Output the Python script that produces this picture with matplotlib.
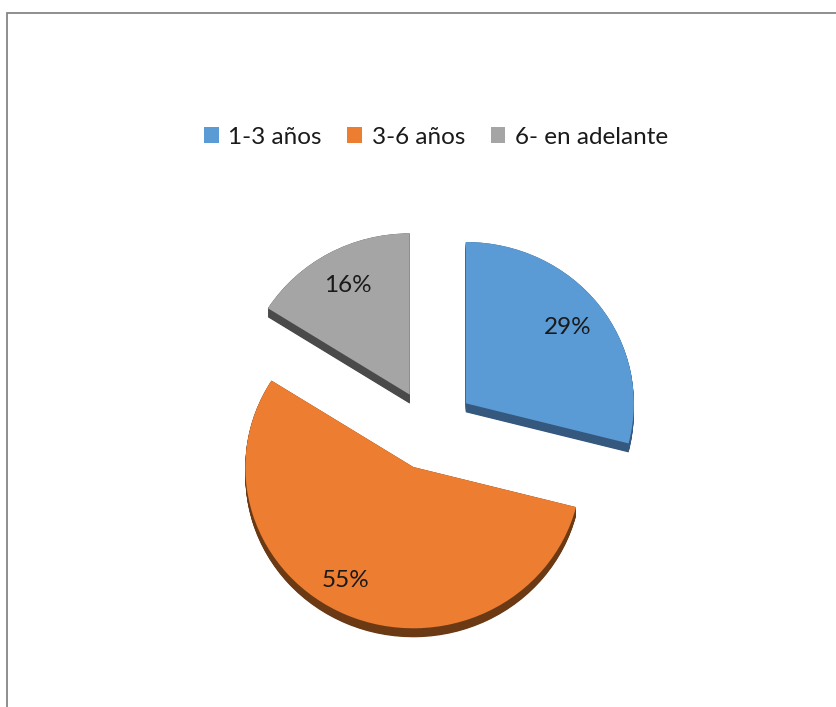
import matplotlib
matplotlib.use("Agg")
import matplotlib.pyplot as plt
from matplotlib.patches import Patch, Rectangle
import numpy as np

categories = ["1-3 años", "3-6 años", "6- en adelante"]
shares = [29, 55, 16]
explode = [0.27, 0.25, 0.25]

top_colors = ["#5B9BD5", "#ED7D31", "#A5A5A5"]
side_colors = ["#35587F", "#6B3A14", "#4A4A4A"]

W, H = 837, 707
fig = plt.figure(figsize=(W / 100, H / 100), dpi=100)
fig.patch.set_facecolor("white")
plt.rcParams["font.family"] = ["Lato", "DejaVu Sans"]

# chart frame (top and left edges visible, rest runs off the canvas)
fig.patches.append(Rectangle((7 / W, -0.1), 1.2, 1.1 - 13 / H,
                             transform=fig.transFigure, fill=False,
                             edgecolor="#868686", linewidth=1.3, zorder=0))

ax = fig.add_axes([0, 0, 1, 1])
ax.set_facecolor("none")

R_PX = 168.0      # pie radius in pixels
TILT = 0.96       # vertical squash for the slight perspective
CX, CY = 430.0, 430.0
depth = 9.0 / (R_PX * TILT)

# extruded side of the slices
for d in np.linspace(depth, 0.0, 16):
    ax.pie(shares, explode=explode, colors=side_colors, startangle=90,
           counterclock=False, center=(0, -d),
           wedgeprops=dict(linewidth=0, antialiased=True))

# top surface with percentage labels
wedges, texts, autotexts = ax.pie(
    shares, explode=explode, colors=top_colors, startangle=90,
    counterclock=False, autopct="%1.0f%%", pctdistance=0.77,
    wedgeprops=dict(linewidth=0),
    textprops=dict(fontsize=17.5, color="#1a1a1a"))

# the large slice's label sits a little further left
x, y = autotexts[1].get_position()
autotexts[1].set_position((x - 0.1, y))

ax.set_aspect("auto")
ax.set_xlim(-CX / R_PX, (W - CX) / R_PX)
ax.set_ylim(-(H - CY) / (R_PX * TILT), CY / (R_PX * TILT))
ax.axis("off")

handles = [Patch(facecolor=c, edgecolor="none") for c in top_colors]
fig.legend(handles, categories, loc="center", ncol=3,
           bbox_to_anchor=(436 / W, 1 - 137 / H), frameon=False,
           fontsize=17.5, handlelength=0.6, handleheight=0.6,
           handletextpad=0.4, columnspacing=1.05, labelcolor="#1a1a1a")

fig.savefig("out.png", dpi=100, facecolor="white")
